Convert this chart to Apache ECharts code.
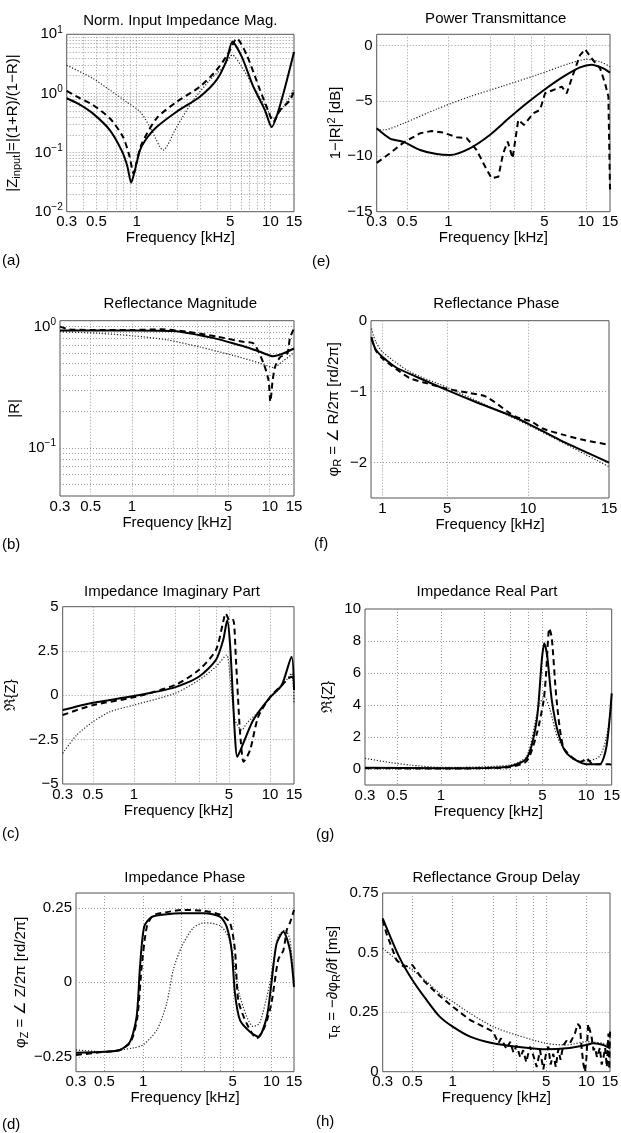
<!DOCTYPE html>
<html><head><meta charset="utf-8">
<script src="https://cdn.jsdelivr.net/npm/echarts@6/dist/echarts.min.js"></script>
<style>html,body{margin:0;padding:0;background:#fff}#c{width:621px;height:1133px}</style>
</head><body><div id="c"></div>
<script>
// ---------------- data (frequency kHz, value) ----------------
// (a) Norm. Input Impedance Mag.
const aSolid = [[0.3,0.83],[0.37,0.66],[0.47,0.46],[0.63,0.24],[0.77,0.11],[0.85,0.06],[0.91,0.031],[0.97,0.05],[1.06,0.11],[1.2,0.18],[1.41,0.27],[1.99,0.49],[2.97,0.88],[3.96,1.69],[4.71,3.67],[5.19,7.5],[6.1,4.18],[7.45,1.30],[9.1,0.52],[10.2,0.27],[12.1,0.77],[15,5.0]];
const aDash = [[0.3,1.1],[0.37,0.85],[0.47,0.64],[0.63,0.38],[0.79,0.185],[0.88,0.09],[0.95,0.044],[1.0,0.07],[1.09,0.14],[1.41,0.38],[1.99,0.72],[2.97,1.30],[3.96,2.49],[4.85,4.77],[5.6,8.5],[6.65,4.46],[8.36,1.14],[9.6,0.52],[10.5,0.33],[11.8,0.52],[14,0.77],[15,1.1]];
const aDot = [[0.3,3.0],[0.47,1.8],[0.63,1.14],[0.84,0.72],[1.06,0.49],[1.26,0.27],[1.58,0.11],[1.99,0.27],[2.65,0.77],[3.53,1.69],[4.45,2.83],[5.19,4.46],[6.1,2.83],[7.45,1.30],[9.35,0.56],[10.5,0.38],[12.5,0.59],[15,1.2]];
// (b) Reflectance Magnitude
const bSolid = [[0.3,0.93],[0.5,0.93],[1,0.93],[2,0.92],[3.1,0.85],[4,0.8],[5.4,0.73],[7,0.67],[8.5,0.62],[10.6,0.57],[12.5,0.6],[15,0.66]];
const bDash = [[0.3,1.0],[0.35,0.95],[0.5,0.94],[1,0.94],[1.6,0.95],[2.5,0.91],[4.1,0.83],[6.4,0.75],[7.6,0.73],[9.0,0.5],[9.8,0.36],[10.1,0.24],[10.5,0.36],[10.96,0.47],[11.9,0.56],[13.4,0.6],[14,0.8],[15,0.97]];
const bDot = [[0.3,0.91],[0.58,0.88],[1.02,0.84],[1.78,0.78],[3.1,0.68],[5.4,0.58],[8.5,0.5],[10.6,0.46],[12.5,0.52],[15,0.61]];
// (c) Impedance Imaginary Part
const cSolid = [[0.3,-0.83],[0.5,-0.42],[1,-0.04],[2,0.45],[3,1.05],[4,1.99],[4.53,3.12],[4.85,4.25],[5.08,2.93],[5.32,0.11],[5.53,-2.33],[5.74,-3.46],[6.36,-2.71],[7.53,-1.39],[10,-0.11],[12.2,0.58],[14.4,2.18],[15,0.3]];
const cDash = [[0.3,-1.11],[0.5,-0.55],[1,-0.11],[2,0.58],[3,1.43],[4,2.55],[4.53,4.15],[4.72,4.62],[5.08,4.2],[5.37,4.25],[5.62,1.99],[5.94,-1.39],[6.1,-2.6],[6.4,-3.74],[7.13,-3.09],[8.2,-1.2],[10,-0.11],[12.2,0.58],[14.4,1.05],[15,0.9]];
const cDot = [[0.3,-3.27],[0.38,-2.24],[0.5,-1.49],[0.67,-0.92],[1,-0.55],[2,0.11],[3,0.86],[4,1.61],[4.8,2.27],[5.08,1.05],[5.53,-1.39],[6.2,-1.96],[6.74,-1.58],[8.44,-0.83],[10,-0.11],[12.2,0.49],[14.4,1.24],[15,-0.4]];
// (d) Impedance Phase
const dSolid = [[0.3,-0.236],[0.5,-0.233],[0.66,-0.227],[0.79,-0.2],[0.89,-0.116],[0.946,0.052],[1.02,0.187],[1.17,0.22],[1.53,0.229],[2,0.232],[3,0.232],[4,0.22],[4.48,0.187],[4.9,0.108],[5.2,-0.037],[5.69,-0.127],[6.8,-0.166],[7.9,-0.183],[9.2,-0.116],[10,-0.003],[10.97,0.13],[12.4,0.17],[13.95,0.108],[15,-0.015]];
const dDash = [[0.3,-0.244],[0.5,-0.233],[0.66,-0.227],[0.8,-0.2],[0.9,-0.12],[0.975,0.052],[1.07,0.187],[1.2,0.225],[1.5,0.235],[2,0.243],[3,0.24],[4,0.227],[4.75,0.2],[5.2,0.108],[5.52,-0.06],[6.4,-0.137],[7.67,-0.188],[8.9,-0.148],[10,-0.07],[11.3,0.076],[12.4,0.108],[13.2,0.177],[13.95,0.2],[15,0.243]];
const dDot = [[0.3,-0.227],[0.5,-0.233],[0.84,-0.22],[1,-0.21],[1.28,-0.16],[1.53,-0.07],[1.72,0.043],[2,0.12],[2.46,0.183],[3,0.2],[4,0.19],[4.61,0.153],[5.05,0.076],[5.69,-0.048],[7.2,-0.148],[8.1,-0.137],[9.75,0],[11.3,0.154],[12.8,0.176],[13.95,0.143],[15,0]];
// (e) Power Transmittance
const eSolid = [[0.3,-7.48],[0.375,-8.4],[0.47,-8.7],[0.62,-9.43],[0.82,-9.8],[1.03,-9.88],[1.43,-9.28],[2.0,-8.08],[2.8,-6.49],[3.71,-5.22],[4.96,-4.02],[6.86,-2.82],[9.07,-1.98],[11.0,-1.74],[13.4,-2.07],[15,-2.46]];
const eDash = [[0.3,-10.6],[0.375,-9.73],[0.47,-8.77],[0.62,-7.93],[0.755,-7.72],[0.92,-7.87],[1.15,-8.29],[1.36,-8.38],[1.6,-9.43],[1.85,-10.94],[2.06,-11.98],[2.31,-11.84],[2.5,-9.73],[2.7,-8.68],[2.93,-10.18],[3.22,-6.73],[3.55,-7.18],[4.15,-6.12],[4.64,-5.82],[5.05,-4.32],[5.8,-4.02],[6.68,-3.72],[7.26,-4.32],[8.13,-2.52],[9.08,-0.87],[9.88,-0.35],[11.0,-1.16],[12.7,-2.07],[13.8,-3.42],[14.6,-4.62],[15,-13]];
const eDot = [[0.3,-7.6],[0.335,-7.63],[0.47,-7.03],[0.82,-5.74],[1.43,-4.62],[2.5,-3.66],[4.39,-2.67],[7.67,-1.62],[10.1,-1.26],[12.7,-1.47],[15,-1.92]];
// (f) Reflectance Phase (linear frequency axis)
const fSolid = [[0.33,-0.23],[0.45,-0.33],[0.6,-0.41],[1,-0.51],[1.85,-0.66],[3.1,-0.79],[5,-0.98],[6.7,-1.14],[8.85,-1.33],[10,-1.45],[11.95,-1.68],[15,-2.0]];
const fDash = [[0.33,-0.25],[0.6,-0.42],[1,-0.53],[1.85,-0.68],[2.7,-0.81],[3.7,-0.88],[5,-0.96],[6.4,-1.02],[7.4,-1.07],[8.85,-1.30],[9.3,-1.36],[10.2,-1.42],[10.9,-1.52],[12.2,-1.61],[13.4,-1.68],[15,-1.75]];
const fDot = [[0.33,-0.11],[0.45,-0.21],[0.6,-0.30],[1,-0.44],[2.7,-0.72],[5,-0.94],[10,-1.47],[15,-2.06]];
// (g) Impedance Real Part
const gSolid = [[0.3,0.08],[1,0.05],[2,0.06],[3,0.17],[3.9,0.67],[4.57,3.06],[4.95,6.81],[5.15,7.86],[5.4,7.03],[5.8,4.31],[6.43,2.23],[7.35,0.98],[10,0.3],[12.4,0.3],[13.8,1.39],[15,4.73]];
const gDash = [[0.3,0.05],[1,0.03],[2,0.05],[3,0.12],[3.9,0.5],[4.57,2.2],[5.1,4.3],[5.3,5.98],[5.58,8.79],[5.8,8.2],[6.26,4.31],[6.95,1.39],[8.15,0.67],[9.3,0.45],[10,0.67],[11.2,0.3],[13.8,0.3],[14.6,0.3],[15,0.12]];
const gDot = [[0.3,0.67],[0.45,0.4],[0.61,0.25],[1,0.1],[3,0.25],[3.9,0.8],[4.57,3.4],[4.8,4.1],[5.15,4.52],[5.64,3.7],[6.43,1.85],[8.15,0.6],[10,0.5],[12.4,0.8],[13.8,2.0],[15,4.1]];
// (h) Reflectance Group Delay
const hSolid = [[0.3,0.644],[0.4,0.48],[0.5,0.385],[0.64,0.3],[0.8,0.231],[1,0.189],[1.35,0.147],[2,0.119],[3,0.105],[5,0.094],[7.1,0.098],[10,0.112],[11.2,0.119],[13.4,0.112],[15,0.098]];
const hDash = [[0.3,0.637],[0.32,0.58],[0.38,0.469],[0.43,0.441],[0.5,0.448],[0.6,0.385],[0.76,0.329],[1,0.273],[1.35,0.217],[1.7,0.189],[2,0.168],[2.2,0.12],[2.3,0.14],[2.53,0.095],[2.69,0.125],[2.85,0.08],[3.01,0.11],[3.2,0.06],[3.37,0.09],[3.55,0.04],[3.78,0.105],[4.0,0.07],[4.25,0.02],[4.5,0.09],[4.76,0.01],[5.0,0.08],[5.19,0.105],[5.4,0.03],[5.65,0.075],[5.9,0.02],[6.16,0.095],[6.4,0.05],[6.71,0.11],[7.1,0.13],[7.53,0.12],[8.2,0.16],[8.6,0.2],[8.95,0.19],[9.2,0.1],[9.5,0.03],[9.75,0.0],[10.0,0.06],[10.3,0.2],[10.6,0.2],[10.9,0.15],[11.3,0.09],[11.6,0.1],[12.0,0.06],[12.6,0.1],[13.0,0.03],[13.4,0.06],[13.8,0.1],[14.2,0.02],[14.6,0.16],[14.8,0.01],[15,0.17]];
const hDot = [[0.3,0.518],[0.4,0.462],[0.5,0.427],[0.64,0.378],[0.8,0.329],[1,0.294],[1.35,0.245],[2,0.189],[3,0.154],[5,0.119],[7.1,0.112],[10,0.126],[13.4,0.119],[15,0.112]];

// ---------------- ticks / grid values ----------------
const X_LABELS = [0.3,0.5,1,5,10,15];
const X_GRID_DENSE = [0.4,0.5,0.6,0.7,0.8,0.9,1,2,3,4,5,6,7,8,9,10];
const X_GRID_SPARSE = [0.5,1,2,3,4,5,10];
const XF_LABELS = [1,5,10,15];
const XF_GRID = [1,5,10];
const YA_LABELS = [0.01,0.1,1,10];
const YA_GRID = [0.02,0.03,0.04,0.05,0.06,0.07,0.08,0.09,0.1,0.2,0.3,0.4,0.5,0.6,0.7,0.8,0.9,1,2,3,4,5,6,7,8,9];
const YB_LABELS = [0.1,1];
const YB_GRID = [0.05,0.06,0.07,0.08,0.09,0.1,0.2,0.3,0.4,0.5,0.6,0.7,0.8,0.9,1];
const YC_LABELS = [-5,-2.5,0,2.5,5];
const YC_GRID = [-2.5,0,2.5];
const YD_LABELS = [-0.25,0,0.25];
const YE_LABELS = [-15,-10,-5,0];
const YE_GRID = [-10,-5,0];
const YF_LABELS = [-2,-1,0];
const YF_GRID = [-2,-1];
const YG_LABELS = [0,2,4,6,8,10];
const YG_GRID = [0,2,4,6,8];
const YH_LABELS = [0,0.25,0.5,0.75];
const YH_GRID = [0.25,0.5];

const FONT = '"Liberation Sans", Arial, Helvetica, sans-serif';

const NAME_RICH = {
  n: {fontSize:15, fontFamily:FONT, color:'#000', verticalAlign:'middle'},
  sub: {fontSize:11, fontFamily:FONT, color:'#000', verticalAlign:'middle', padding:[8,0,0,0]},
  sup: {fontSize:11, fontFamily:FONT, color:'#000', verticalAlign:'middle', padding:[0,0,8,0]}
};

const P = [
  {box:[66.7,34.3,227.3,177.4], xType:'log', xMin:0.3, xMax:15, xGrid:X_GRID_DENSE, xLabels:X_LABELS,
   yType:'log', yMin:0.01, yMax:10, yGrid:YA_GRID, yLabels:YA_LABELS, pow:true,
   yName:'{n||Z}{sub|input}{n||=|(1+R)/(1−R)|}', yGap:44,
   title:'Norm. Input Impedance Mag.', tx:180.3, ty:21, lab:'(a)', lx:2, ly:261, s:[aSolid,aDash,aDot]},
  {box:[60,320.7,234,175.3], xType:'log', xMin:0.3, xMax:15, xGrid:X_GRID_SPARSE, xLabels:X_LABELS,
   yType:'log', yMin:0.04, yMax:1.12, yGrid:YB_GRID, yLabels:YB_LABELS, pow:true,
   yName:'{n||R|}', yGap:38,
   title:'Reflectance Magnitude', tx:180.3, ty:304, lab:'(b)', lx:2, ly:545, s:[bSolid,bDash,bDot]},
  {box:[62.7,606.7,231.3,177.3], xType:'log', xMin:0.3, xMax:15, xGrid:X_GRID_SPARSE, xLabels:X_LABELS,
   yType:'value', yMin:-5, yMax:5, yGrid:YC_GRID, yLabels:YC_LABELS,
   yName:'{n|ℜ\u007BZ\u007D}', yGap:44,
   title:'Impedance Imaginary Part', tx:172, ty:592, lab:'(c)', lx:2, ly:834, s:[cSolid,cDash,cDot]},
  {box:[76,893,218,178.7], xType:'log', xMin:0.3, xMax:15, xGrid:X_GRID_SPARSE, xLabels:X_LABELS,
   yType:'value', yMin:-0.3, yMax:0.3, yGrid:YD_LABELS, yLabels:YD_LABELS,
   yName:'{n|φ}{sub|Z}{n| = ∠ Z/2π [rd/2π]}', yGap:42,
   title:'Impedance Phase', tx:184.8, ty:878, lab:'(d)', lx:2, ly:1125, s:[dSolid,dDash,dDot]},
  {box:[376.7,34.3,233.3,177.4], xType:'log', xMin:0.3, xMax:15, xGrid:X_GRID_SPARSE, xLabels:X_LABELS,
   yType:'value', yMin:-15, yMax:1, yGrid:YE_GRID, yLabels:YE_LABELS,
   yName:'{n|1−|R|}{sup|2}{n| [dB]}', yGap:30,
   title:'Power Transmittance', tx:495.7, ty:19, lab:'(e)', lx:312, ly:262, s:[eSolid,eDash,eDot]},
  {box:[371,320.7,238,177.3], xType:'value', xMin:0.3, xMax:15, xGrid:XF_GRID, xLabels:XF_LABELS,
   yType:'value', yMin:-2.5, yMax:0, yGrid:YF_GRID, yLabels:YF_LABELS,
   yName:'{n|φ}{sub|R}{n| = ∠ R/2π [rd/2π]}', yGap:28,
   title:'Reflectance Phase', tx:496.3, ty:304, lab:'(f)', lx:314, ly:544, s:[fSolid,fDash,fDot]},
  {box:[365,609,246.7,176], xType:'log', xMin:0.3, xMax:15, xGrid:X_GRID_SPARSE, xLabels:X_LABELS,
   yType:'value', yMin:-1, yMax:10, yGrid:YG_GRID, yLabels:YG_LABELS,
   yName:'{n|ℜ\u007BZ\u007D}', yGap:30,
   title:'Impedance Real Part', tx:487, ty:592, lab:'(g)', lx:316, ly:835, s:[gSolid,gDash,gDot]},
  {box:[382.7,893,227.3,178.7], xType:'log', xMin:0.3, xMax:15, xGrid:X_GRID_SPARSE, xLabels:X_LABELS,
   yType:'value', yMin:0, yMax:0.75, yGrid:YH_GRID, yLabels:YH_LABELS,
   yName:'{n|τ}{sub|R}{n| = −∂φ}{sub|R}{n|/∂f [ms]}', yGap:40,
   title:'Reflectance Group Delay', tx:496.2, ty:878, lab:'(h)', lx:316, ly:1122, s:[hSolid,hDash,hDot]}
];

function fmtNum(v){ const r = +(+v).toPrecision(4); return (r < 0 ? '−' : '') + Math.abs(r); }
function fmtPow(v){ const e = Math.round(Math.log10(v)); return '{b|10}{s|' + (e < 0 ? '−' : '') + Math.abs(e) + '}'; }

const GRIDLINE = {show:true, lineStyle:{color:'#9a9a9a', width:1, type:[1,2]}};
const LABEL_BASE = {color:'#000', fontSize:15, fontFamily:FONT};

const STYLES = [
  {color:'#000', width:2, type:'solid'},
  {color:'#000', width:2, type:[6,4]},
  {color:'#222', width:1.2, type:[1.2,1.8]}
];

const option = {
  animation:false,
  backgroundColor:'#fff',
  grid: P.map(p => ({left:p.box[0], top:p.box[1], width:p.box[2], height:p.box[3], show:true,
    borderColor:'#555', borderWidth:1, backgroundColor:'#fff', containLabel:false, outerBoundsMode:'none'})),
  xAxis: P.map((p,i) => ({
    gridIndex:i, type:p.xType, min:p.xMin, max:p.xMax, logBase:10,
    axisLine:{show:false}, axisTick:{show:false, customValues:p.xGrid},
    splitLine:GRIDLINE, minorTick:{show:false}, minorSplitLine:{show:false},
    axisLabel:Object.assign({customValues:p.xLabels, formatter:fmtNum, margin:3, hideOverlap:false}, LABEL_BASE),
    name:'Frequency [kHz]', nameLocation:'middle', nameGap:8,
    nameTextStyle:{color:'#000', fontSize:15, fontFamily:FONT}
  })),
  yAxis: P.map((p,i) => ({
    gridIndex:i, type:p.yType, min:p.yMin, max:p.yMax, logBase:10,
    axisLine:{show:false}, axisTick:{show:false, customValues:p.yGrid},
    splitLine:GRIDLINE, minorTick:{show:false}, minorSplitLine:{show:false},
    axisLabel:Object.assign({customValues:p.yLabels, formatter:p.pow ? fmtPow : fmtNum, margin:4, hideOverlap:false,
      rich:{b:{fontSize:15, fontFamily:FONT, color:'#000', verticalAlign:'middle'},
            s:{fontSize:10, fontFamily:FONT, color:'#000', verticalAlign:'middle', padding:[0,0,9,0]}}}, LABEL_BASE),
    name:p.yName, nameLocation:'middle', nameGap:p.yGap,
    nameTextStyle:{color:'#000', fontSize:15, fontFamily:FONT, rich:NAME_RICH}
  })),
  series: [],
  graphic: []
};

P.forEach((p,i) => {
  p.s.forEach((arr,k) => {
    option.series.push({type:'line', xAxisIndex:i, yAxisIndex:i, data:arr, showSymbol:false, symbol:'none',
      smooth:k === 1 && (i === 4 || i === 7) ? false : 0.25, silent:true, clip:true,
      lineStyle:STYLES[k], z:3 - k});
  });
  option.graphic.push({type:'text', x:p.tx, y:p.ty, silent:true,
    style:{text:p.title, fill:'#000', font:'15px ' + FONT, align:'center', verticalAlign:'middle'}});
  option.graphic.push({type:'text', x:p.lx, y:p.ly, silent:true,
    style:{text:p.lab, fill:'#000', font:'15px ' + FONT, align:'left', verticalAlign:'middle'}});
});

const chart = echarts.init(document.getElementById('c'), null, {renderer:'canvas'});
chart.setOption(option);
</script></body></html>
